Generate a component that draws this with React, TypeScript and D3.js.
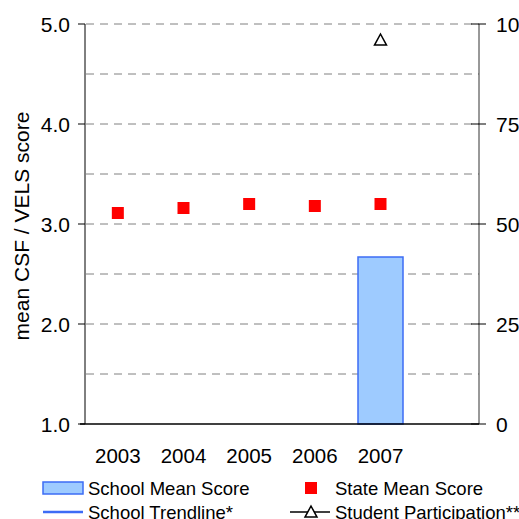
import * as d3 from "d3"

const YEARS = ["2003", "2004", "2005", "2006", "2007"]
// school mean score (bar), null where no data
const SCHOOL_MEAN: (number | null)[] = [null, null, null, null, 2.67]
const STATE_MEAN = [3.11, 3.16, 3.2, 3.18, 3.2]
// student participation, right axis (%)
const PARTICIPATION: (number | null)[] = [null, null, null, null, 96]
const LEFT_TICKS = [1, 2, 3, 4, 5]
const RIGHT_TICKS = [0, 25, 50, 75, 100]

const W = 519
const H = 519
const M = { left: 85, right: 479, top: 24, bottom: 424 }
const FONT = "Arial, 'Liberation Sans', sans-serif"

export default function App() {
  // 6 bands: the last one is left empty, as in the source chart
  const x = d3
    .scaleBand<string>()
    .domain([...YEARS, ""])
    .range([M.left, M.right])
  const y = d3.scaleLinear().domain([1, 5]).range([M.bottom, M.top])
  const y2 = d3.scaleLinear().domain([0, 100]).range([M.bottom, M.top])
  const cx = (yr: string) => (x(yr) ?? 0) + x.bandwidth() / 2
  const barW = 45
  const grid = d3.range(1.5, 5.01, 0.5)

  const tri = (px: number, py: number, s = 6) =>
    `M${px},${py - s} L${px + s},${py + s * 0.85} L${px - s},${py + s * 0.85} Z`

  return (
    <svg
      width={W}
      height={H}
      style={{ position: "absolute", left: 0, top: 0, display: "block" }}
      fontFamily={FONT}
    >
      <rect width={W} height={H} fill="#fff" />

      {/* dashed gridlines */}
      <g>
        {grid.map((g) => (
          <line
            key={g}
            x1={M.left + 1}
            x2={M.right}
            y1={y(g)}
            y2={y(g)}
            stroke="#808080"
            strokeWidth={1}
            strokeDasharray="8,6"
          />
        ))}
      </g>

      {/* school mean bars */}
      {YEARS.map((yr, i) => {
        const v = SCHOOL_MEAN[i]
        if (v == null) return null
        return (
          <rect
            key={yr}
            x={cx(yr) - barW / 2}
            y={y(v)}
            width={barW}
            height={y(1) - y(v)}
            fill="#9ecbff"
            stroke="#3d6cf5"
            strokeWidth={1.5}
          />
        )
      })}

      {/* axes */}
      <line x1={M.left} x2={M.left} y1={M.top} y2={M.bottom} stroke="#000" />
      <line x1={M.right} x2={M.right} y1={M.top} y2={M.bottom} stroke="#333" />
      <line x1={M.left - 5} x2={M.right} y1={M.bottom} y2={M.bottom} stroke="#000" strokeWidth={1.5} />
      {LEFT_TICKS.map((t) => (
        <g key={t}>
          <line x1={M.left - 7} x2={M.left} y1={y(t)} y2={y(t)} stroke="#000" />
          <text x={70} y={y(t)} dy="0.36em" textAnchor="end" fontSize={21} fill="#000">
            {t.toFixed(1)}
          </text>
        </g>
      ))}
      {RIGHT_TICKS.map((t) => (
        <g key={t}>
          <line x1={M.right - 8} x2={M.right + 7} y1={y2(t)} y2={y2(t)} stroke="#000" />
          <text x={496} y={y2(t)} dy="0.36em" fontSize={21} fill="#000">
            {t}
          </text>
        </g>
      ))}
      {YEARS.map((yr) => (
        <text key={yr} x={cx(yr)} y={463} textAnchor="middle" fontSize={20.5} fill="#000">
          {yr}
        </text>
      ))}
      <text
        transform={`translate(29,226) rotate(-90)`}
        textAnchor="middle"
        fontSize={21}
        fill="#000"
      >
        mean CSF / VELS score
      </text>

      {/* state mean squares */}
      {YEARS.map((yr, i) => (
        <rect
          key={yr}
          x={cx(yr) - 6}
          y={y(STATE_MEAN[i]) - 6}
          width={12}
          height={12}
          fill="#ff0000"
        />
      ))}

      {/* participation triangles */}
      {YEARS.map((yr, i) => {
        const v = PARTICIPATION[i]
        if (v == null) return null
        return (
          <path key={yr} d={tri(cx(yr), y2(v))} fill="#fff" stroke="#000" strokeWidth={1.5} />
        )
      })}

      {/* legend */}
      <g fontSize={18.5} fill="#000">
        <rect x={43} y={482} width={40} height={12} fill="#9ecbff" stroke="#3d6cf5" strokeWidth={1.5} />
        <text x={88} y={495}>School Mean Score</text>
        <rect x={305} y={482} width={12} height={12} fill="#ff0000" />
        <text x={335} y={495}>State Mean Score</text>
        <line x1={43} x2={83} y1={512} y2={512} stroke="#3d6cf5" strokeWidth={2.5} />
        <text x={88} y={519}>School Trendline*</text>
        <line x1={290} x2={330} y1={512} y2={512} stroke="#000" strokeWidth={1.5} />
        <path d={tri(311, 512)} fill="#fff" stroke="#000" strokeWidth={1.5} />
        <text x={335} y={519}>Student Participation**</text>
      </g>
    </svg>
  )
}
